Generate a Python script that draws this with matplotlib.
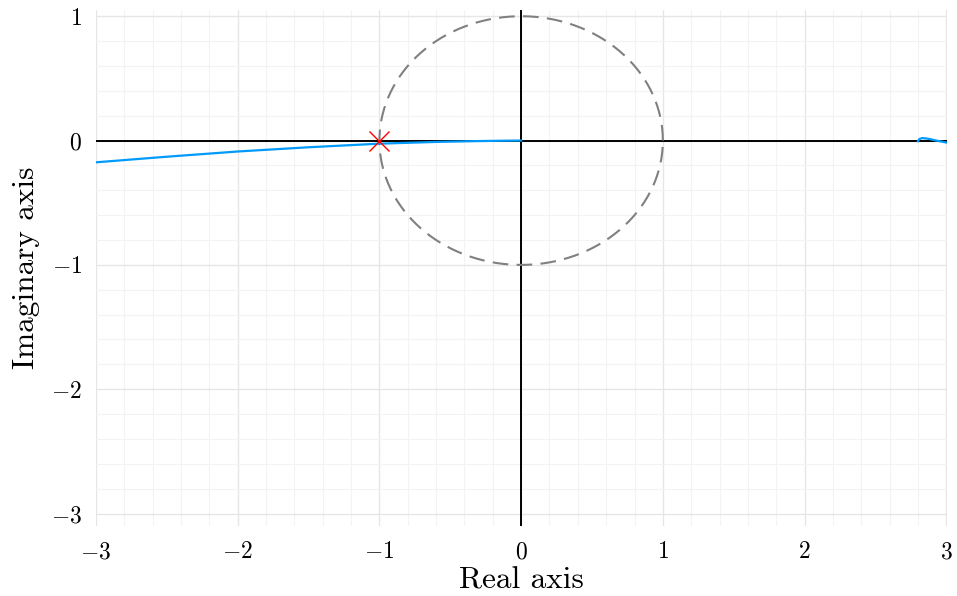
import numpy as np
import matplotlib.pyplot as plt
from matplotlib.ticker import MultipleLocator, FixedLocator, FuncFormatter

plt.rcParams['mathtext.fontset'] = 'cm'
plt.rcParams['font.family'] = ['cmr10', 'DejaVu Serif']
plt.rcParams['axes.unicode_minus'] = False

# Nyquist curve, positive frequencies
nyq_re = [-3.4, -3.0, -2.5, -2.0, -1.5, -1.0, -0.6, -0.3, -0.1, 0.0]
nyq_im = [-0.21, -0.175, -0.13, -0.088, -0.054, -0.025, -0.011, -0.004, -0.001, 0.0]

# high-frequency hook near the right edge
hook_re = [2.80, 2.81, 2.83, 2.87, 2.93, 3.0, 3.1]
hook_im = [-0.005, 0.012, 0.02, 0.015, 0.0, -0.016, -0.03]

crit_pt = (-1.0, 0.0)
xticks = [-3, -2, -1, 0, 1, 2, 3]
yticks = [-3, -2, -1, 0, 1]

fig = plt.figure(figsize=(9.57, 5.96), dpi=100)
ax = fig.add_axes([96 / 957, 70 / 596, 851 / 957, 516 / 596])

# grid
ax.xaxis.set_major_locator(FixedLocator(xticks))
ax.yaxis.set_major_locator(FixedLocator(yticks))
ax.xaxis.set_minor_locator(MultipleLocator(0.2))
ax.yaxis.set_minor_locator(MultipleLocator(0.2))
ax.grid(True, which='major', color='#e6e6e6', linewidth=1.0)
ax.grid(True, which='minor', color='#f3f3f3', linewidth=0.8)
ax.set_axisbelow(True)

# zero lines
ax.axhline(0, color='black', linewidth=1.4, zorder=2)
ax.axvline(0, color='black', linewidth=1.4, zorder=2)

# unit circle
th = np.linspace(0, 2 * np.pi, 400)
ax.plot(np.cos(th), np.sin(th), color='gray', linewidth=1.5,
        dashes=(7.5, 4.0), zorder=3)

ax.plot(nyq_re, nyq_im, color='#009AFA', linewidth=1.6, zorder=4)
ax.plot(hook_re, hook_im, color='#009AFA', linewidth=1.6, zorder=4)

ax.plot(*crit_pt, marker='x', color='red', markersize=14,
        markeredgewidth=1.0, linestyle='none', zorder=5)

ax.set_xlim(-3, 3.005)
ax.set_ylim(-3.1, 1.05)

for s in ax.spines.values():
    s.set_visible(False)

fmt = FuncFormatter(lambda v, p: f'${v:g}$')
ax.xaxis.set_major_formatter(fmt)
ax.yaxis.set_major_formatter(fmt)
ax.tick_params(which='both', length=0, labelsize=17)
ax.tick_params(axis='x', pad=11)
ax.tick_params(axis='y', pad=10)

ax.set_xlabel('Real axis', fontsize=22.5, labelpad=2)
ax.set_ylabel('Imaginary axis', fontsize=22.5, labelpad=8)

fig.savefig('out.png', dpi=100)
